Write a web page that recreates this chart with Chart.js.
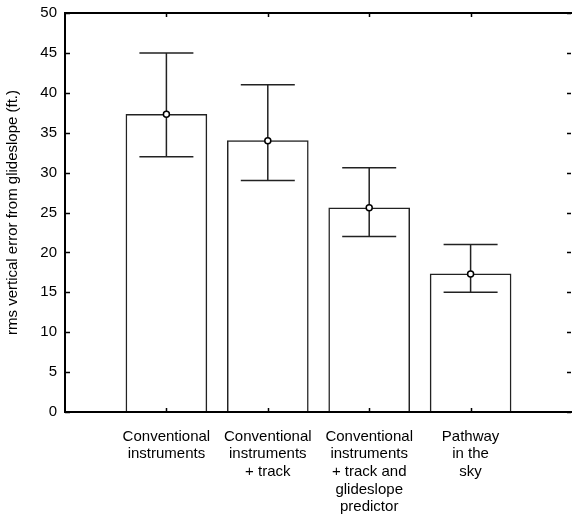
<!DOCTYPE html>
<html>
<head>
<meta charset="utf-8">
<script src="https://cdn.jsdelivr.net/npm/chart.js@4.4.0/dist/chart.umd.min.js"></script>
<style>
  html, body { margin: 0; padding: 0; background: #fff; overflow: hidden; }
  canvas { display: block; }
</style>
</head>
<body>
<canvas id="myChart" width="572" height="518"></canvas>
<script>
// labels: empty slots at both ends so the bars sit like in the original plot
const categories = [
  '',
  ['Conventional', 'instruments'],
  ['Conventional', 'instruments', '+ track'],
  ['Conventional', 'instruments', '+ track and', 'glideslope', 'predictor'],
  ['Pathway', 'in the', 'sky'],
  ''
];
const means = [null, 37.3, 34.0, 25.6, 17.3, null];
const upper = [null, 45, 41, 30.6, 21, null];
const lower = [null, 32, 29, 22, 15, null];
const yTicks = [0, 5, 10, 15, 20, 25, 30, 35, 40, 45, 50];

const font = { family: '"Liberation Sans", Arial, sans-serif', size: 15, lineHeight: 1.17 };

// frame, inward ticks and error bars
const framePlugin = {
  id: 'frame',
  afterDatasetDraw(chart, args) {
    if (args.index !== 0) return;
    const ctx = chart.ctx;
    const x = chart.scales.x, y = chart.scales.y;
    ctx.save();
    ctx.strokeStyle = '#222';
    ctx.lineWidth = 1.5;
    for (let i = 0; i < means.length; i++) {
      if (means[i] == null) continue;
      const px = x.getPixelForValue(i);
      const top = y.getPixelForValue(upper[i]);
      const bot = y.getPixelForValue(lower[i]);
      ctx.beginPath();
      ctx.moveTo(px, top); ctx.lineTo(px, bot);
      ctx.moveTo(px - 27, top); ctx.lineTo(px + 27, top);
      ctx.moveTo(px - 27, bot); ctx.lineTo(px + 27, bot);
      ctx.stroke();
    }
    ctx.restore();
  },
  afterDraw(chart) {
    const ctx = chart.ctx;
    const a = chart.chartArea;
    const x = chart.scales.x, y = chart.scales.y;
    ctx.save();
    ctx.strokeStyle = '#000';
    ctx.lineWidth = 2;
    // right edge of the frame falls off the page in the original
    ctx.beginPath();
    ctx.moveTo(a.right, a.top); ctx.lineTo(a.left, a.top);
    ctx.lineTo(a.left, a.bottom); ctx.lineTo(a.right, a.bottom);
    ctx.stroke();
    ctx.lineWidth = 1.5;
    ctx.beginPath();
    yTicks.forEach(v => {
      const py = Math.round(y.getPixelForValue(v)) + 0.5;
      ctx.moveTo(a.left, py); ctx.lineTo(a.left + 5, py);
      ctx.moveTo(a.right - 1, py); ctx.lineTo(a.right - 5, py);
    });
    for (let i = 1; i < categories.length - 1; i++) {
      const px = Math.round(x.getPixelForValue(i)) + 0.5;
      ctx.moveTo(px, a.bottom); ctx.lineTo(px, a.bottom - 4);
      ctx.moveTo(px, a.top); ctx.lineTo(px, a.top + 4);
    }
    ctx.stroke();
    ctx.restore();
  }
};

const ctx = document.getElementById('myChart').getContext('2d');
const myChart = new Chart(ctx, {
  type: 'bar',
  data: {
    labels: categories,
    datasets: [{
      data: means,
      backgroundColor: '#fff',
      borderColor: '#222',
      borderWidth: 1.5,
      barThickness: 81,
      order: 2
    }, {
      type: 'line',
      data: means,
      showLine: false,
      pointRadius: 3,
      pointBackgroundColor: '#fff',
      pointBorderColor: '#000',
      pointBorderWidth: 1.5,
      order: 1
    }]
  },
  options: {
    responsive: false,
    animation: false,
    layout: { autoPadding: false, padding: { top: 13, right: 0, left: 0, bottom: 0 } },
    plugins: {
      legend: { display: false },
      tooltip: { enabled: false }
    },
    scales: {
      x: {
        offset: false,
        grid: { display: false, drawTicks: false },
        border: { display: false },
        ticks: { color: '#000', font: font, padding: 16, maxRotation: 0, autoSkip: false },
        afterFit(s) { s.height = 106; s.paddingLeft = 0; s.paddingRight = 0; }
      },
      y: {
        min: 0,
        max: 50,
        grid: { display: false, drawTicks: false },
        border: { display: false },
        ticks: { stepSize: 5, color: '#000', font: font, padding: 8 },
        title: {
          display: true,
          text: 'rms vertical error from glideslope (ft.)',
          color: '#000',
          font: { family: font.family, size: 15 },
          padding: { top: 4, bottom: 4 }
        },
        afterFit(s) { s.width = 65; s.paddingTop = 0; s.paddingBottom = 0; }
      }
    }
  },
  plugins: [framePlugin]
});
</script>
</body>
</html>
